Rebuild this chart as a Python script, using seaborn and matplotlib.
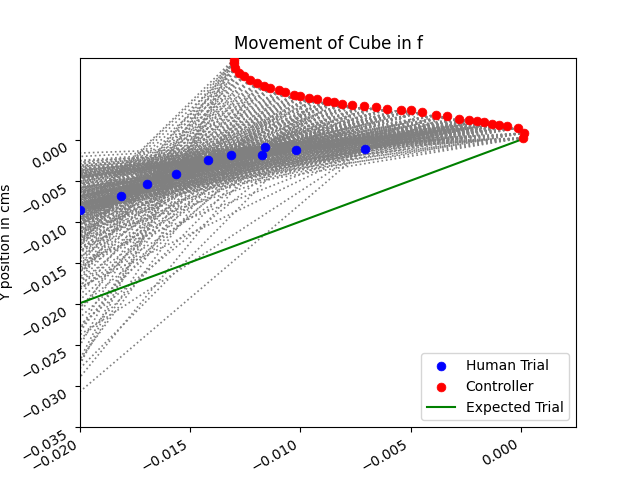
import matplotlib
matplotlib.use("Agg")
import matplotlib.pyplot as plt
import numpy as np
import seaborn as sns

human_x = [-0.0200, -0.01814, -0.01695, -0.01564, -0.01418, -0.01314, -0.01173, -0.01159, -0.01018, -0.00705]
human_y = [-0.00854, -0.00683, -0.00537, -0.00415, -0.00244, -0.00183, -0.00183, -0.00085, -0.00122, -0.00110]

controller_x = [0.00008, 0.00015, -0.00015, -0.00061, -0.00098, -0.00129, -0.00167, -0.00197, -0.00235,
                -0.00280, -0.00333, -0.00386, -0.00447, -0.00500, -0.00545, -0.00606, -0.00659, -0.00712,
                -0.00765, -0.00811, -0.00848, -0.00879, -0.00924, -0.00962, -0.01000, -0.01030, -0.01068,
                -0.01098, -0.01136, -0.01167, -0.01197, -0.01227, -0.01258, -0.01280, -0.01295, -0.01303,
                -0.01303]
controller_y = [0.00021, 0.00081, 0.00142, 0.00163, 0.00183, 0.00195, 0.00211, 0.00224, 0.00244,
                0.00256, 0.00285, 0.00305, 0.00341, 0.00358, 0.00366, 0.00378, 0.00398, 0.00407,
                0.00427, 0.00439, 0.00459, 0.00476, 0.00496, 0.00508, 0.00528, 0.00549, 0.00577,
                0.00601, 0.00630, 0.00659, 0.00691, 0.00732, 0.00772, 0.00813, 0.00874, 0.00935,
                0.00976]

expected_x = [-0.020, 0.000]
expected_y = [-0.0199, 0.000]

y_ticks = [0.000, -0.005, -0.010, -0.015, -0.020, -0.025, -0.030, -0.035]

fig, ax = plt.subplots(figsize=(6.4, 4.8), dpi=100)

# Dotted guide lines from each controller point leftwards through human points.
for cx, cy in zip(controller_x, controller_y):
    for hx, hy in zip(human_x, human_y):
        if cx - hx < 0.002:
            continue
        ax.plot([cx, cx + 8 * (hx - cx)], [cy, cy + 8 * (hy - cy)],
                ls=":", color="gray", lw=1.2, zorder=1)

sns.scatterplot(x=human_x, y=human_y, color="blue", s=40, edgecolor="blue",
                label="Human Trial", ax=ax, zorder=3)
sns.scatterplot(x=controller_x, y=controller_y, color="red", s=40, edgecolor="red",
                label="Controller", ax=ax, zorder=3)
sns.lineplot(x=expected_x, y=expected_y, color="green", label="Expected Trial", ax=ax, zorder=2)

ax.set_xlim(-0.020, 0.0025)
ax.set_ylim(-0.035, 0.0100)
ax.set_yticks(y_ticks)
ax.set_xticks([-0.020, -0.015, -0.010, -0.005, 0.000])
ax.set_ylabel("Y position in cms")
ax.set_title("Movement of Cube in f")
for lbl in ax.get_xticklabels():
    lbl.set_rotation(30)
    lbl.set_ha("right")
for lbl in ax.get_yticklabels():
    lbl.set_rotation(30)
    lbl.set_va("top")
ax.legend(loc="lower right")

fig.savefig("out.png")
